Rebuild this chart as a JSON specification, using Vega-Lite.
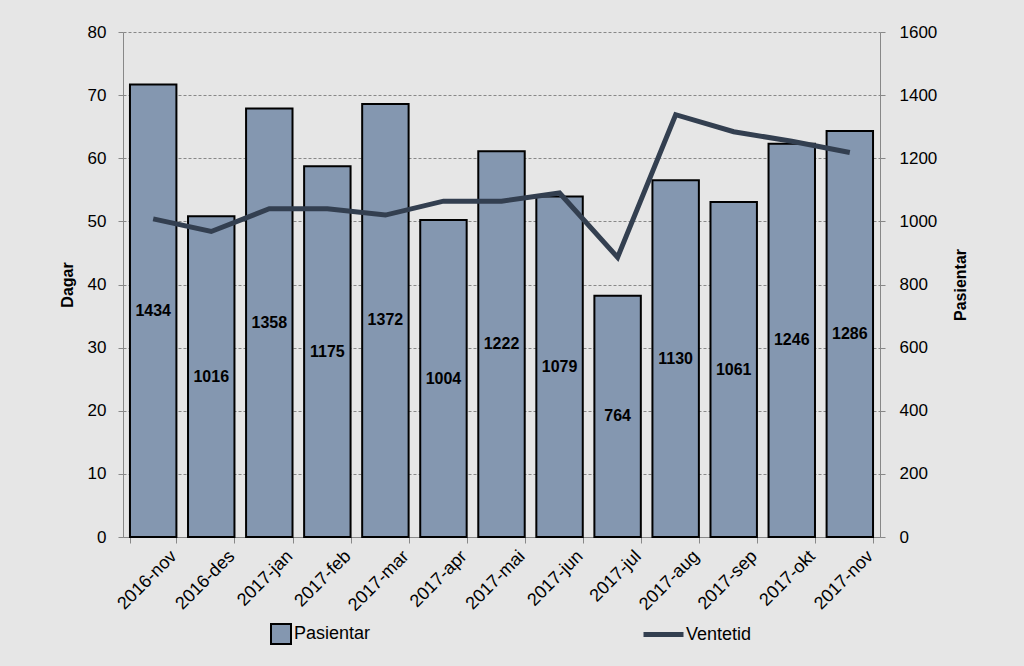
{
  "$schema": "https://vega.github.io/schema/vega-lite/v6.json",
  "width": 757,
  "height": 505,
  "autosize": {"type": "none"},
  "padding": {"left": 123, "top": 32, "right": 144, "bottom": 129},
  "background": "#e6e6e6",
  "config": {
    "font": "Liberation Sans",
    "view": {"stroke": null},
    "axis": {"labelFont": "Liberation Sans", "labelColor": "#000", "titleColor": "#000", "titleFont": "Liberation Sans", "domainColor": "#888", "tickColor": "#888"}
  },
  "data": {
    "values": [
      {"month": "2016-nov", "Pasientar": 1434, "Ventetid": 50.4},
      {"month": "2016-des", "Pasientar": 1016, "Ventetid": 48.4},
      {"month": "2017-jan", "Pasientar": 1358, "Ventetid": 52.0},
      {"month": "2017-feb", "Pasientar": 1175, "Ventetid": 52.0},
      {"month": "2017-mar", "Pasientar": 1372, "Ventetid": 51.0},
      {"month": "2017-apr", "Pasientar": 1004, "Ventetid": 53.2},
      {"month": "2017-mai", "Pasientar": 1222, "Ventetid": 53.2},
      {"month": "2017-jun", "Pasientar": 1079, "Ventetid": 54.5},
      {"month": "2017-jul", "Pasientar": 764, "Ventetid": 44.3},
      {"month": "2017-aug", "Pasientar": 1130, "Ventetid": 66.9},
      {"month": "2017-sep", "Pasientar": 1061, "Ventetid": 64.2},
      {"month": "2017-okt", "Pasientar": 1246, "Ventetid": 62.7},
      {"month": "2017-nov", "Pasientar": 1286, "Ventetid": 60.9}
    ]
  },
  "encoding": {
    "x": {
      "field": "month", "type": "nominal", "sort": null,
      "scale": {"paddingInner": 0.2, "paddingOuter": 0.12},
      "axis": {"title": null, "labelAngle": -45, "labelFontSize": 18, "labelAlign": "right", "labelBaseline": "top", "labelOffset": 14, "tickBand": "extent", "tickSize": 6, "labelPadding": 4, "domainColor": "#888"}
    }
  },
  "layer": [
    {
      "mark": {"type": "bar", "stroke": "#000", "strokeWidth": 2},
      "encoding": {
        "y": {"field": "Pasientar", "type": "quantitative", "scale": {"domain": [0, 1600]},
          "axis": {"orient": "right", "title": "Pasientar", "titleAngle": -90, "titleFontSize": 16, "titleFontWeight": "bold", "labelFontSize": 17, "format": "d", "tickCount": 8, "grid": false, "titlePadding": 32, "domainColor": "#888", "labelPadding": 14}},
        "fill": {"datum": "Pasientar", "type": "nominal", "scale": {"range": ["#8497B0"]},
          "legend": {"title": null, "orient": "none", "legendX": 147, "legendY": 591, "symbolType": "square", "symbolSize": 400, "symbolStrokeColor": "#000", "symbolStrokeWidth": 2, "labelFontSize": 18, "labelOffset": 2, "labelColor": "#000"}}
      }
    },
    {
      "mark": {"type": "line", "strokeWidth": 5, "color": "#333F50"},
      "encoding": {
        "y": {"field": "Ventetid", "type": "quantitative", "scale": {"domain": [0, 80]},
          "axis": {"orient": "left", "title": "Dagar", "titleFontSize": 16, "titleFontWeight": "bold", "labelFontSize": 17, "tickCount": 8, "grid": true, "gridDash": [3, 2], "gridColor": "#888", "titlePadding": 12, "labelPadding": 12}},
        "stroke": {"datum": "Ventetid", "type": "nominal", "scale": {"range": ["#333F50"]},
          "legend": {"title": null, "orient": "none", "legendX": 518, "legendY": 580, "symbolType": "stroke", "symbolSize": 1600, "symbolStrokeWidth": 5, "labelFontSize": 18, "labelOffset": 0, "labelColor": "#000"}}
      }
    },
    {
      "mark": {"type": "text", "fontWeight": "bold", "fontSize": 16, "color": "#000", "baseline": "middle"},
      "encoding": {
        "y": {"field": "Pasientar", "type": "quantitative", "scale": {"domain": [0, 3200]}, "axis": null},
        "text": {"field": "Pasientar", "type": "quantitative"}
      }
    }
  ],
  "resolve": {"scale": {"y": "independent", "fill": "independent", "stroke": "independent"}}
}
